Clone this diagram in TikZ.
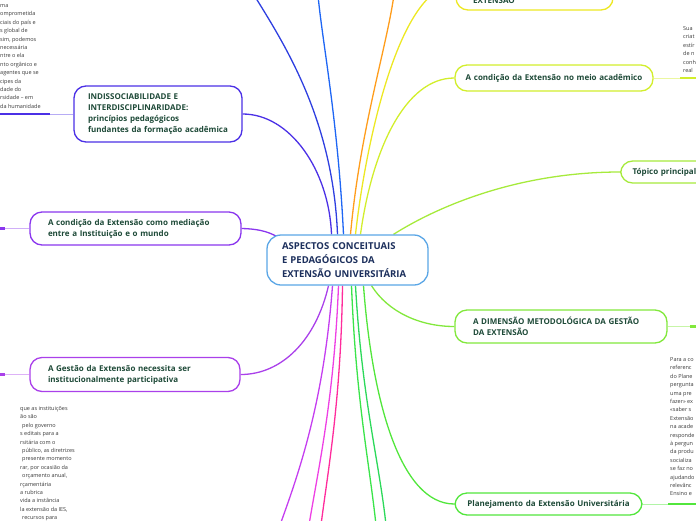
\documentclass[tikz,border=0pt]{standalone}
\usepackage{fontspec}
\setmainfont{Open Sans}
\pgfdeclarelayer{bg}
\pgfsetlayers{bg,main}
\definecolor{cn1}{HTML}{4B30E6}
\definecolor{cn2}{HTML}{8A36EE}
\definecolor{cn3}{HTML}{AA40EA}
\definecolor{cdb}{HTML}{2E3FE0}
\definecolor{cbl}{HTML}{1E66F4}
\definecolor{cor}{HTML}{FF9D1C}
\definecolor{cn4}{HTML}{EDE823}
\definecolor{cn5}{HTML}{D2EE2C}
\definecolor{cn6}{HTML}{A6EA3C}
\definecolor{cn7}{HTML}{82E83C}
\definecolor{cn8}{HTML}{52E63C}
\definecolor{cga}{HTML}{3AE44A}
\definecolor{cgb}{HTML}{2CD95A}
\definecolor{cvi}{HTML}{C53EF0}
\definecolor{cma}{HTML}{EE40E4}
\definecolor{cpk}{HTML}{FF2C9C}
\definecolor{cc}{HTML}{5AA6E6}
\definecolor{tx}{HTML}{1E4A38}
\definecolor{ctx}{HTML}{1C2F5C}
\definecolor{notec}{HTML}{3A3A3A}
\begin{document}
\begin{tikzpicture}[x=1pt,y=-1pt,
  topic/.style={draw, rounded corners=12pt, line width=1.3pt, fill=white, text=tx,
    font=\fontsize{8}{11}\selectfont\bfseries, inner ysep=0pt, align=left},
  note/.style={text=notec, font=\fontsize{5.5}{8.4}\selectfont, anchor=base west, inner sep=0pt},
  conn/.style={line width=1.3pt},
  thinlink/.style={line width=1pt},
  underl/.style={line width=2.6pt},
]
\useasboundingbox (0,0) rectangle (696,520);
\clip (0,0) rectangle (696,520);

% central node
\node[draw=cc, fill=white, rounded corners=14pt, line width=1.3pt, text=ctx,
  font=\fontsize{9.5}{14}\selectfont\bfseries, align=left, text width=131pt,
  inner xsep=15pt, inner ysep=0pt, minimum height=50pt] (c) at (347.5,260)
  {\mbox{ASPECTOS CONCEITUAIS}\\\mbox{E PEDAGÓGICOS DA}\\\mbox{EXTENSÃO UNIVERSITÁRIA}};

% left topics
\node[topic, draw=cn1, text width=140pt, inner xsep=14pt, minimum height=56pt] (n1) at (158,114)
  {\mbox{INDISSOCIABILIDADE E}\\\mbox{INTERDISCIPLINARIDADE:}\\\mbox{princípios pedagógicos}\\\mbox{fundantes da formação acadêmica}};
\node[topic, draw=cn2, text width=175pt, inner xsep=18pt, minimum height=33pt] (n2) at (135.5,228.5)
  {\mbox{A condição da Extensão como mediação}\\\mbox{entre a Instituição e o mundo}};
\node[topic, draw=cn3, text width=174pt, inner xsep=18pt, minimum height=34pt] (n3) at (135,374.5)
  {\mbox{A Gestão da Extensão necessita ser}\\\mbox{institucionalmente participativa}};

% right topics
\node[topic, draw=cn4, minimum width=157pt, minimum height=50pt] (n4) at (534.5,-15) {};
\node[text=tx, font=\fontsize{8}{11}\selectfont\bfseries, anchor=base west, inner sep=0pt] (n4t) at (473,3) {EXTENSÃO};
\node[topic, draw=cn5, align=center, text width=178pt, inner xsep=10pt, minimum height=26pt] (n5) at (554,78)
  {\mbox{A condição da Extensão no meio acadêmico}};
\node[topic, draw=cn6, anchor=west, text width=90pt, inner xsep=12pt, minimum height=22pt] (n6) at (620,172)
  {Tópico principal};
\node[topic, draw=cn7, text width=176pt, inner xsep=18pt, minimum height=33pt] (n7) at (561,326.5)
  {\mbox{A DIMENSÃO METODOLÓGICA DA GESTÃO}\\\mbox{DA EXTENSÃO}};
\node[topic, draw=cn8, align=center, text width=171pt, inner xsep=8pt, minimum height=22pt] (n8) at (548.5,504)
  {\mbox{Planejamento da Extensão Universitária}};

% free ends
\coordinate (e1) at (254,-5);
\coordinate (e2) at (318,-5);
\coordinate (e3) at (394,-5);
\coordinate (b1) at (280,525);
\coordinate (b2) at (309,525);
\coordinate (b3) at (321,525);
\coordinate (b4) at (376,525);
\coordinate (b5) at (386,525);
\coordinate (u1) at (50,114);   \coordinate (l1) at (-5,114);
\coordinate (u2) at (5,228.5);  \coordinate (l2) at (-5,228.5);
\coordinate (u3) at (5,374.5);  \coordinate (l3) at (-5,374.5);
\coordinate (u5) at (680,78);   \coordinate (r5) at (700,78);
\coordinate (u7) at (690,326.5);\coordinate (r7) at (700,326.5);
\coordinate (u8) at (668,504);  \coordinate (r8) at (700,504);

% notes
\foreach \txt [count=\idx] in {ma, omprometida, {ciais do país e}, {s global de}, {sim, podemos},
  necessária, {ntre o ela}, {nto orgânico e}, {agentes que se}, {cipes da}, {dade do},
  {rsidade – em}, {da humanidade}}
  \node[note] (tl\idx) at (0,{7.5+(\idx-1)*8.4}) {\txt};
\foreach \xx/\txt [count=\idx] in {20/{que as instituições}, 20/{ão são}, 22/{pelo governo},
  20/{s editais para a}, 20/{rsitária com o}, 22/{público, as diretrizes}, 22/{presente momento},
  20/{rar, por ocasião da}, 22/{orçamento anual,}, 20/{rçamentária}, 20/{a rubrica},
  20/{vida a instância}, 20/{la extensão da IES,}, 22/{recursos para}}
  \node[note] (bl\idx) at (\xx,{410.5+(\idx-1)*8.4}) {\txt};
\foreach \txt [count=\idx] in {Sua, criat, estír, {de n}, conh, real}
  \node[note] (tr\idx) at (683,{30.5+(\idx-1)*8.4}) {\txt};
\foreach \txt [count=\idx] in {{Para a co}, referenc, {do Plane}, pergunta, {uma pre}, {fazer» ex},
  {«saber s}, Extensão, {na acade}, responde, {à pergun}, {da produ}, socializa, {se faz no},
  ajudando, relevânc, {Ensino e}}
  \node[note] (br\idx) at (670,{361.5+(\idx-1)*8.4}) {\txt};

\begin{pgfonlayer}{bg}
  % upward connectors
  \draw[conn, cn1] ([xshift=-16pt]c.north) .. controls (329,170) and (290,114) .. (n1.east);
  \draw[conn, cdb] ([xshift=-10pt]c.north) .. controls (333,120) and (285,45) .. (e1);
  \draw[conn, cbl] ([xshift=-4pt]c.north) .. controls (338,120) and (322,40) .. (e2);
  \draw[conn, cor] ([xshift=3pt]c.north) .. controls (360,130) and (386,50) .. (e3);
  \draw[conn, cn4] ([xshift=8pt]c.north) .. controls (366,140) and (400,-15) .. (n4.west);
  \draw[conn, cn5] ([xshift=13pt]c.north) .. controls (372,150) and (405,78) .. (n5.west);
  \draw[conn, cn6] ([xshift=46pt]c.north) .. controls (440,205) and (520,172) .. (n6.west);
  \draw[conn, cn2] (n2.east) .. controls (262,229) and (272,233) .. ([shift={(15pt,-5pt)}]c.north west);
  % downward connectors
  \draw[conn, cn3] ([xshift=-19pt]c.south) .. controls (316,340) and (282,374.5) .. (n3.east);
  \draw[conn, cvi] ([xshift=-15pt]c.south) .. controls (324,400) and (300,470) .. (b1);
  \draw[conn, cma] ([xshift=-9pt]c.south) .. controls (334,400) and (318,470) .. (b2);
  \draw[conn, cpk] ([xshift=-5pt]c.south) .. controls (341,400) and (328,470) .. (b3);
  \draw[conn, cga] ([xshift=4pt]c.south) .. controls (356,400) and (369,460) .. (b4);
  \draw[conn, cgb] ([xshift=8pt]c.south) .. controls (362,400) and (379,460) .. (b5);
  \draw[conn, cn8] ([xshift=16pt]c.south) .. controls (372,400) and (400,504) .. (n8.west);
  \draw[conn, cn7] ([xshift=24pt]c.south) .. controls (388,312) and (420,326.5) .. (n7.west);
  % note links
  \draw[thinlink, cn1!40] (n1.west) -- (u1);
  \draw[underl, cn1] (u1) -- (l1);
  \draw[thinlink, cn2!40] (n2.west) -- (u2);
  \draw[underl, cn2] (u2) -- (l2);
  \draw[thinlink, cn3!40] (n3.west) -- (u3);
  \draw[underl, cn3] (u3) -- (l3);
  \draw[thinlink, cn5!45] (n5.east) -- (u5);
  \draw[underl, cn5] (u5) -- (r5);
  \draw[thinlink, cn7!45] (n7.east) -- (u7);
  \draw[underl, cn7] (u7) -- (r7);
  \draw[thinlink, cn8!45] (n8.east) -- (u8);
  \draw[underl, cn8] (u8) -- (r8);
\end{pgfonlayer}
\end{tikzpicture}
\end{document}
